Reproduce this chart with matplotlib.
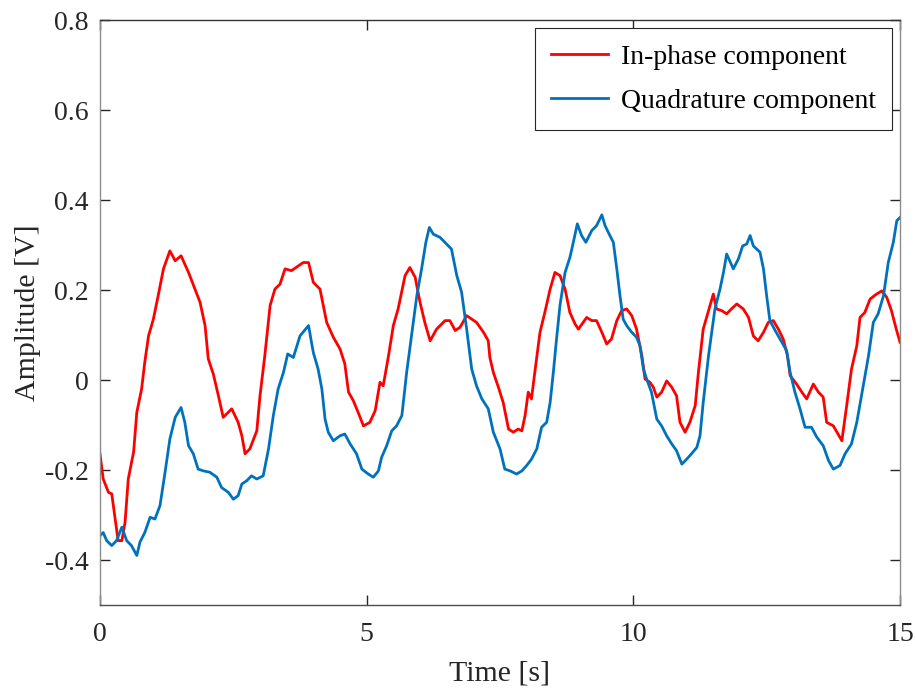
import numpy as np
import matplotlib
matplotlib.use('Agg')
import matplotlib.pyplot as plt

# values
t_inphase = [0.0, 0.06, 0.16, 0.22, 0.34, 0.41, 0.47, 0.53, 0.63, 0.69, 0.78, 0.84, 0.91, 1.0,
             1.09, 1.19, 1.31, 1.41, 1.52, 1.66, 1.78, 1.875, 1.97, 2.03, 2.125, 2.22, 2.31, 2.47,
             2.59, 2.66, 2.72, 2.81, 2.94, 3.0, 3.09, 3.19, 3.28, 3.375, 3.47, 3.59, 3.81, 3.91,
             4.0, 4.125, 4.25, 4.375, 4.5, 4.59, 4.66, 4.75, 4.84, 4.94, 5.06, 5.16, 5.25, 5.31,
             5.41, 5.5, 5.59, 5.72, 5.81, 5.91, 6.0, 6.09, 6.19, 6.31, 6.47, 6.56, 6.66, 6.75,
             6.875, 7.06, 7.19, 7.28, 7.31, 7.375, 7.47, 7.56, 7.66, 7.75, 7.84, 7.91, 7.97, 8.03,
             8.09, 8.16, 8.25, 8.34, 8.44, 8.53, 8.625, 8.72, 8.81, 8.91, 8.97, 9.06, 9.125, 9.22,
             9.31, 9.41, 9.5, 9.59, 9.69, 9.78, 9.875, 9.97, 10.06, 10.16, 10.22, 10.31, 10.375,
             10.44, 10.53, 10.625, 10.72, 10.81, 10.875, 10.97, 11.06, 11.16, 11.22, 11.31, 11.41,
             11.5, 11.56, 11.66, 11.75, 11.84, 11.94, 12.06, 12.16, 12.25, 12.34, 12.44, 12.53,
             12.625, 12.72, 12.81, 12.89, 12.94, 13.06, 13.16, 13.25, 13.375, 13.47, 13.56, 13.625,
             13.75, 13.91, 14.0, 14.09, 14.19, 14.25, 14.34, 14.44, 14.56, 14.66, 14.75, 14.84,
             14.93, 15.0]
v_inphase = [-0.164, -0.22, -0.25, -0.253, -0.357, -0.357, -0.316, -0.22, -0.16, -0.072, -0.02, 0.04,
             0.098, 0.135, 0.187, 0.247, 0.287, 0.265, 0.276, 0.239, 0.202, 0.173, 0.121, 0.047,
             0.013, -0.035, -0.083, -0.064, -0.094, -0.124, -0.164, -0.153, -0.113, -0.035, 0.054,
             0.166, 0.202, 0.213, 0.247, 0.243, 0.261, 0.261, 0.217, 0.202, 0.128, 0.095, 0.069,
             0.036, -0.027, -0.046, -0.072, -0.102, -0.094, -0.068, -0.005, -0.013, 0.054, 0.121,
             0.158, 0.232, 0.25, 0.228, 0.173, 0.128, 0.087, 0.113, 0.132, 0.132, 0.11, 0.117,
             0.143, 0.128, 0.106, 0.087, 0.05, 0.017, -0.016, -0.05, -0.109, -0.116, -0.109, -0.113,
             -0.079, -0.027, -0.042, 0.024, 0.106, 0.15, 0.202, 0.239, 0.232, 0.202, 0.15, 0.124,
             0.113, 0.128, 0.139, 0.132, 0.132, 0.106, 0.08, 0.091, 0.132, 0.154, 0.158, 0.143,
             0.113, 0.054, 0.002, -0.005, -0.016, -0.038, -0.027, -0.002, -0.016, -0.035, -0.094,
             -0.116, -0.094, -0.057, 0.017, 0.113, 0.154, 0.191, 0.158, 0.154, 0.147, 0.158, 0.169,
             0.158, 0.139, 0.098, 0.087, 0.106, 0.128, 0.132, 0.113, 0.091, 0.054, 0.01, -0.009,
             -0.027, -0.042, -0.009, -0.027, -0.038, -0.094, -0.102, -0.135, -0.057, 0.024, 0.076,
             0.139, 0.15, 0.18, 0.191, 0.198, 0.184, 0.154, 0.113, 0.084]

t_quad = [0.0, 0.06, 0.125, 0.22, 0.31, 0.41, 0.5, 0.59, 0.69, 0.75, 0.84, 0.94, 1.03, 1.125, 1.22,
          1.31, 1.41, 1.52, 1.59, 1.66, 1.75, 1.84, 1.94, 2.06, 2.19, 2.28, 2.41, 2.5, 2.59, 2.66,
          2.75, 2.84, 2.94, 3.06, 3.16, 3.25, 3.34, 3.44, 3.52, 3.625, 3.75, 3.91, 4.0, 4.09, 4.16,
          4.22, 4.28, 4.375, 4.5, 4.59, 4.69, 4.81, 4.91, 5.03, 5.125, 5.22, 5.28, 5.375, 5.47,
          5.56, 5.66, 5.75, 5.84, 5.94, 6.03, 6.11, 6.175, 6.25, 6.375, 6.5, 6.59, 6.69, 6.78,
          6.875, 6.97, 7.06, 7.16, 7.28, 7.375, 7.5, 7.59, 7.69, 7.81, 7.91, 8.0, 8.09, 8.19, 8.28,
          8.375, 8.44, 8.5, 8.56, 8.625, 8.72, 8.81, 8.875, 8.95, 9.03, 9.11, 9.22, 9.31, 9.41,
          9.47, 9.56, 9.625, 9.69, 9.75, 9.81, 9.875, 9.97, 10.06, 10.125, 10.19, 10.25, 10.34,
          10.44, 10.53, 10.625, 10.72, 10.81, 10.91, 11.0, 11.09, 11.19, 11.25, 11.31, 11.41,
          11.53, 11.625, 11.69, 11.75, 11.875, 11.97, 12.05, 12.125, 12.19, 12.25, 12.375, 12.44,
          12.5, 12.56, 12.66, 12.75, 12.875, 12.94, 13.03, 13.125, 13.22, 13.34, 13.44, 13.56,
          13.66, 13.75, 13.875, 13.97, 14.09, 14.19, 14.31, 14.41, 14.5, 14.59, 14.69, 14.78,
          14.875, 14.94, 15.0]
v_quad = [-0.346, -0.339, -0.357, -0.368, -0.357, -0.327, -0.357, -0.368, -0.39, -0.36, -0.339,
          -0.305, -0.309, -0.279, -0.205, -0.131, -0.083, -0.061, -0.094, -0.146, -0.164, -0.198,
          -0.202, -0.205, -0.216, -0.239, -0.25, -0.265, -0.257, -0.231, -0.224, -0.213, -0.22,
          -0.213, -0.153, -0.079, -0.02, 0.017, 0.058, 0.05, 0.098, 0.121, 0.061, 0.024, -0.02,
          -0.087, -0.116, -0.135, -0.124, -0.12, -0.142, -0.164, -0.198, -0.209, -0.216, -0.202,
          -0.172, -0.146, -0.113, -0.102, -0.079, 0.017, 0.098, 0.187, 0.247, 0.306, 0.339, 0.324,
          0.317, 0.302, 0.291, 0.232, 0.195, 0.113, 0.024, -0.013, -0.042, -0.064, -0.116, -0.153,
          -0.198, -0.202, -0.209, -0.202, -0.19, -0.176, -0.153, -0.105, -0.094, -0.05, 0.017,
          0.091, 0.166, 0.239, 0.272, 0.306, 0.347, 0.321, 0.306, 0.332, 0.343, 0.367, 0.343,
          0.321, 0.306, 0.247, 0.187, 0.135, 0.121, 0.106, 0.095, 0.076, 0.024, 0.002, -0.027,
          -0.087, -0.102, -0.124, -0.142, -0.157, -0.187, -0.176, -0.164, -0.15, -0.124, -0.05,
          0.054, 0.158, 0.202, 0.239, 0.28, 0.247, 0.269, 0.298, 0.302, 0.321, 0.298, 0.284,
          0.247, 0.187, 0.132, 0.11, 0.091, 0.065, 0.017, -0.027, -0.064, -0.105, -0.105, -0.127,
          -0.146, -0.179, -0.198, -0.19, -0.164, -0.142, -0.094, -0.013, 0.054, 0.128, 0.147,
          0.187, 0.261, 0.306, 0.354, 0.361]

x_ticks = [0, 5, 10, 15]
y_ticks = [-0.4, -0.2, 0, 0.2, 0.4, 0.6, 0.8]
y_tick_labels = ['-0.4', '-0.2', '0', '0.2', '0.4', '0.6', '0.8']

plt.rcParams['font.family'] = ['Liberation Serif', 'DejaVu Serif']
plt.rcParams['axes.unicode_minus'] = False

fig = plt.figure(figsize=(9.15, 6.89), dpi=100)
ax = fig.add_axes([100 / 915, 1 - 605 / 689, 800 / 915, 585 / 689])

ax.plot(t_inphase, v_inphase, color=(1, 0, 0), lw=2.0, label='In-phase component')
ax.plot(t_quad, v_quad, color=(0, 0.447, 0.741), lw=2.0, label='Quadrature component')

ax.set_xlim(0, 15)
ax.set_ylim(-0.5, 0.8)
ax.set_xticks(x_ticks)
ax.set_yticks(y_ticks)
ax.set_yticklabels(y_tick_labels)

axis_col = (0.15, 0.15, 0.15)
ax.spines['left'].set_color('0.55')
ax.spines['right'].set_color('0.55')
ax.spines['top'].set_color('0.2')
ax.spines['bottom'].set_color('0.3')
for s in ax.spines.values():
    s.set_linewidth(1.0)
ax.tick_params(direction='in', top=True, right=True, length=7, width=1.0,
               color=axis_col, labelcolor=axis_col, labelsize=20)
ax.tick_params(axis='y', pad=8)
ax.tick_params(axis='x', pad=12)

ax.set_xlabel('Time [s]', fontsize=21.5, color=axis_col, labelpad=10)
ax.set_ylabel('Amplitude [V]', fontsize=21.5, color=axis_col, labelpad=3)

leg = ax.legend(loc='upper right', fontsize=20, fancybox=False, framealpha=1,
                edgecolor=axis_col, handlelength=2.05, handletextpad=0.45,
                borderpad=0.58, labelspacing=0.66, borderaxespad=0.3)
leg.get_frame().set_linewidth(0.8)

fig.savefig('out.png', dpi=100)
